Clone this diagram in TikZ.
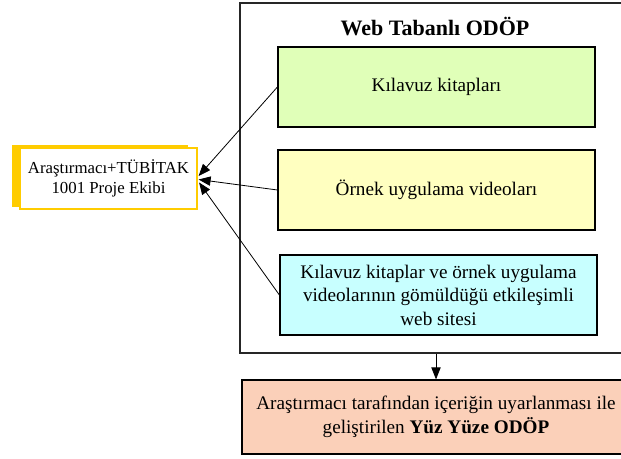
\documentclass[tikz,border=0pt]{standalone}
\usepackage{fontspec}
\setmainfont{Liberation Serif}
\usetikzlibrary{arrows.meta,calc}
\definecolor{cgreen}{RGB}{224,255,184}
\definecolor{cyellow}{RGB}{255,255,192}
\definecolor{ccyan}{RGB}{200,255,255}
\definecolor{csalmon}{RGB}{251,208,185}
\definecolor{cgold}{RGB}{255,204,0}
\begin{document}
\begin{tikzpicture}[x=0.75pt,y=-0.75pt,
  box/.style={draw=black, line width=0.9pt, inner sep=0pt, align=center,
    minimum width=237.75pt, minimum height=60pt,
    font=\fontsize{14.4}{17.6}\selectfont},
  arr/.style={-{Triangle[length=9pt,width=7pt]}, line width=0.6pt},
]
\useasboundingbox (0,0) rectangle (621,459);
\clip (0,0) rectangle (621,459);
% outer frame
\node[draw=black!85, line width=0.9pt, minimum width=292.5pt, minimum height=262.5pt, inner sep=0pt] (outer) at (435,178) {};
\node[font=\fontsize{16.5}{18}\selectfont\bfseries] (title) at (435,27) {Web Tabanlı ODÖP};
% inner boxes
\node[box, fill=cgreen] (b1) at (436.5,87) {Kılavuz kitapları};
\node[box, fill=cyellow] (b2) at (436.5,190) {Örnek uygulama videoları};
\node[box, fill=ccyan] (b3) at (438.5,295) {Kılavuz kitaplar ve örnek uygulama\\videolarının gömüldüğü etkileşimli\\web sitesi};
% bottom box
\node[box, fill=csalmon, minimum width=291pt, minimum height=55.5pt, font=\fontsize{14.4}{18}\selectfont] (bot) at (436,417)
  {Araştırmacı tarafından içeriğin uyarlanması ile\\geliştirilen \textbf{Yüz Yüze ODÖP}};
% left box with shadow
\node[fill=cgold, minimum width=132pt, minimum height=46.5pt, inner sep=0pt] (lbs) at (100,176) {};
\node[draw=cgold, fill=white, line width=0.9pt, minimum width=132.75pt, minimum height=45.75pt, inner sep=0pt,
  align=center, font=\fontsize{12.6}{15}\selectfont] (lb) at (108.5,178.5)
  {Araştırmacı+TÜBİTAK\\1001 Proje Ekibi};
\coordinate (t1) at ($(lb.east)+(1,-2.5)$);
\coordinate (t2) at ($(lb.east)+(1,1)$);
\coordinate (t3) at ($(lb.east)+(1.5,4)$);
\draw[arr] (b1.west) -- (t1);
\draw[arr] (b2.west) -- (t2);
\draw[arr] (b3.west) -- (t3);
\coordinate (os) at (outer.south -| bot.north);
\draw[arr] (os) -- (bot.north);
\end{tikzpicture}
\end{document}
